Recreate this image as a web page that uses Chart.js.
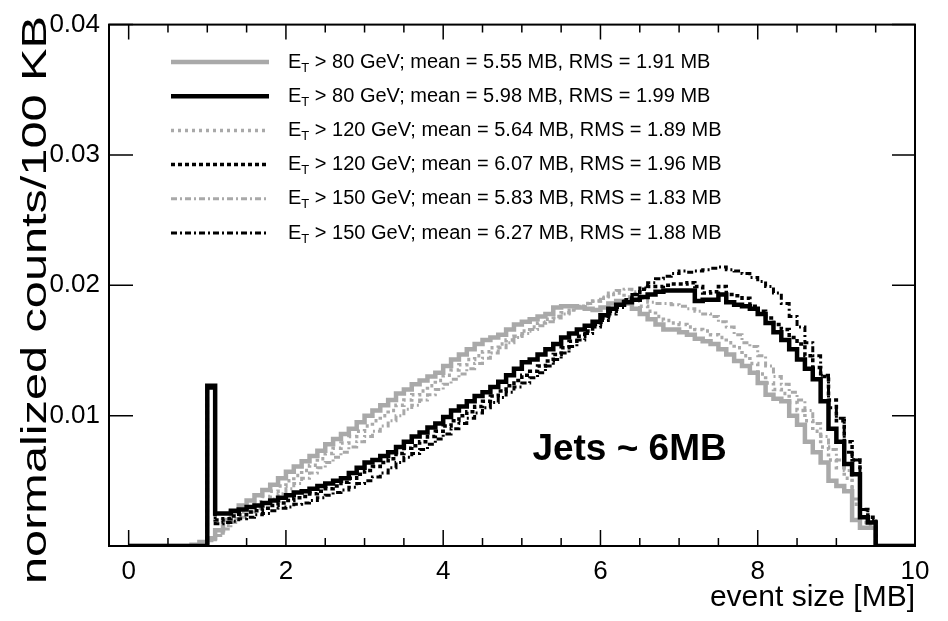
<!DOCTYPE html>
<html>
<head>
<meta charset="utf-8">
<script src="https://cdn.jsdelivr.net/npm/chart.js@4.4.1/dist/chart.umd.min.js"></script>
<style>
  html, body { margin: 0; padding: 0; background: #fff; }
</style>
</head>
<body>
<canvas id="myChart" width="948" height="621"></canvas>
<script>
// histogram bins: 100 KB wide, first bin starts at 0.8 MB
const firstBin = 0.8;
const binWidth = 0.1;

// E_T > 80 GeV, grey solid
const gray80 = [
  0.0001, 0.0003, 0.0006, 0.0012, 0.0020, 0.0026, 0.0031, 0.0035, 0.0039, 0.0043,
  0.0047, 0.0052, 0.0057, 0.0061, 0.0065, 0.0069, 0.0073, 0.0078, 0.0082, 0.0086,
  0.0090, 0.0095, 0.0100, 0.0104, 0.0108, 0.0112, 0.0117, 0.0120, 0.0124, 0.0127,
  0.0130, 0.0133, 0.0138, 0.0143, 0.0147, 0.0151, 0.0155, 0.0158, 0.0160, 0.0162,
  0.0166, 0.0170, 0.0172, 0.0174, 0.0176, 0.0178, 0.0183, 0.0184, 0.0184, 0.0183,
  0.0182, 0.0181, 0.0183, 0.0186, 0.0188, 0.0186, 0.0182, 0.0178, 0.0174, 0.0170,
  0.0166, 0.0166, 0.0164, 0.0162, 0.0159, 0.0157, 0.0155, 0.0151, 0.0147, 0.0142,
  0.0138, 0.0133, 0.0125, 0.0116, 0.0113, 0.0111, 0.0100, 0.0093, 0.0080, 0.0072,
  0.0064, 0.0050, 0.0046, 0.0042, 0.0020, 0.0014, 0.0014
];
// E_T > 80 GeV, black solid
const black80 = [
  0, 0, 0.0123, 0.0025, 0.0025, 0.0027, 0.0028, 0.0030, 0.0031, 0.0033,
  0.0035, 0.0037, 0.0039, 0.0041, 0.0042, 0.0044, 0.0046, 0.0048, 0.0050, 0.0052,
  0.0056, 0.0060, 0.0064, 0.0066, 0.0069, 0.0072, 0.0076, 0.0080, 0.0084, 0.0087,
  0.0091, 0.0094, 0.0099, 0.0104, 0.0107, 0.0111, 0.0115, 0.0118, 0.0122, 0.0126,
  0.0131, 0.0136, 0.0141, 0.0143, 0.0147, 0.0151, 0.0155, 0.0160, 0.0163, 0.0166,
  0.0169, 0.0172, 0.0177, 0.0182, 0.0185, 0.0187, 0.0189, 0.0191, 0.0193, 0.0195,
  0.0196, 0.0196, 0.0196, 0.0196, 0.0188, 0.0189, 0.0189, 0.0193, 0.0187, 0.0185,
  0.0184, 0.0182, 0.0178, 0.0171, 0.0164, 0.0158, 0.0151, 0.0143, 0.0136, 0.0128,
  0.0111, 0.0090, 0.0080, 0.0063, 0.0055, 0.0022, 0.0018
];
// E_T > 120 GeV, grey dotted
const gray120 = [
  0, 0.0002, 0.0005, 0.0010, 0.0016, 0.0021, 0.0026, 0.0030, 0.0034, 0.0038,
  0.0042, 0.0046, 0.0050, 0.0054, 0.0058, 0.0062, 0.0067, 0.0071, 0.0075, 0.0079,
  0.0084, 0.0088, 0.0092, 0.0096, 0.0100, 0.0104, 0.0108, 0.0112, 0.0116, 0.0119,
  0.0123, 0.0127, 0.0131, 0.0135, 0.0139, 0.0143, 0.0146, 0.0149, 0.0152, 0.0155,
  0.0158, 0.0161, 0.0165, 0.0168, 0.0171, 0.0174, 0.0176, 0.0179, 0.0181, 0.0184,
  0.0186, 0.0188, 0.0190, 0.0193, 0.0194, 0.0191, 0.0188, 0.0184, 0.0180, 0.0176,
  0.0173, 0.0171, 0.0170, 0.0168, 0.0166, 0.0165, 0.0162, 0.0160, 0.0156, 0.0152,
  0.0146, 0.0140, 0.0132, 0.0125, 0.0120, 0.0117, 0.0110, 0.0104, 0.0096, 0.0088,
  0.0076, 0.0066, 0.0060, 0.0052, 0.0032, 0.0018, 0.0016
];
// E_T > 120 GeV, black dotted
const black120 = [
  0, 0, 0.0122, 0.0020, 0.0021, 0.0023, 0.0024, 0.0026, 0.0027, 0.0029,
  0.0031, 0.0033, 0.0035, 0.0037, 0.0038, 0.0040, 0.0042, 0.0044, 0.0046, 0.0049,
  0.0052, 0.0055, 0.0058, 0.0061, 0.0064, 0.0067, 0.0071, 0.0075, 0.0077, 0.0080,
  0.0084, 0.0088, 0.0092, 0.0096, 0.0100, 0.0103, 0.0107, 0.0111, 0.0115, 0.0119,
  0.0123, 0.0127, 0.0131, 0.0134, 0.0138, 0.0142, 0.0147, 0.0152, 0.0157, 0.0161,
  0.0165, 0.0170, 0.0175, 0.0180, 0.0185, 0.0189, 0.0193, 0.0197, 0.0199, 0.0199,
  0.0200, 0.0201, 0.0201, 0.0202, 0.0199, 0.0194, 0.0195, 0.0199, 0.0193, 0.0192,
  0.0190, 0.0184, 0.0180, 0.0175, 0.0170, 0.0166, 0.0160, 0.0155, 0.0146, 0.0137,
  0.0130, 0.0112, 0.0096, 0.0080, 0.0066, 0.0028, 0.0022
];
// E_T > 150 GeV, grey dash-dot
const gray150 = [
  0, 0.0001, 0.0004, 0.0008, 0.0013, 0.0018, 0.0022, 0.0026, 0.0029, 0.0033,
  0.0036, 0.0040, 0.0044, 0.0048, 0.0052, 0.0056, 0.0060, 0.0064, 0.0068, 0.0072,
  0.0076, 0.0080, 0.0084, 0.0088, 0.0092, 0.0096, 0.0100, 0.0105, 0.0108, 0.0112,
  0.0116, 0.0120, 0.0124, 0.0128, 0.0132, 0.0136, 0.0140, 0.0144, 0.0148, 0.0152,
  0.0156, 0.0160, 0.0163, 0.0166, 0.0169, 0.0172, 0.0175, 0.0178, 0.0181, 0.0184,
  0.0186, 0.0188, 0.0191, 0.0194, 0.0196, 0.0197, 0.0195, 0.0190, 0.0187, 0.0186,
  0.0186, 0.0185, 0.0184, 0.0182, 0.0180, 0.0178, 0.0176, 0.0172, 0.0168, 0.0162,
  0.0156, 0.0153, 0.0146, 0.0138, 0.0130, 0.0124, 0.0118, 0.0112, 0.0104, 0.0094,
  0.0084, 0.0074, 0.0066, 0.0058, 0.0036, 0.0022, 0.0018
];
// E_T > 150 GeV, black dash-dot
const black150 = [
  0, 0, 0.0121, 0.0017, 0.0018, 0.0019, 0.0021, 0.0022, 0.0024, 0.0025,
  0.0027, 0.0029, 0.0030, 0.0032, 0.0033, 0.0035, 0.0037, 0.0039, 0.0041, 0.0043,
  0.0045, 0.0048, 0.0050, 0.0053, 0.0056, 0.0060, 0.0064, 0.0068, 0.0071, 0.0074,
  0.0078, 0.0082, 0.0086, 0.0090, 0.0094, 0.0098, 0.0102, 0.0106, 0.0110, 0.0114,
  0.0118, 0.0122, 0.0125, 0.0129, 0.0133, 0.0138, 0.0143, 0.0148, 0.0153, 0.0158,
  0.0163, 0.0168, 0.0173, 0.0178, 0.0183, 0.0188, 0.0193, 0.0198, 0.0202, 0.0205,
  0.0207, 0.0209, 0.0211, 0.0210, 0.0211, 0.0212, 0.0213, 0.0214, 0.0212, 0.0211,
  0.0209, 0.0206, 0.0203, 0.0199, 0.0194, 0.0186, 0.0176, 0.0168, 0.0156, 0.0146,
  0.0131, 0.0106, 0.0098, 0.0072, 0.0066, 0.0028, 0.0020
];

// legend text pieces
const etCuts = [80, 80, 120, 120, 150, 150];
const means = ['5.55', '5.98', '5.64', '6.07', '5.83', '6.27'];
const rmsValues = ['1.91', '1.99', '1.89', '1.96', '1.83', '1.88'];

const xTicks = [0, 2, 4, 6, 8, 10];
const yTicks = [0.01, 0.02, 0.03, 0.04];

const jetsText = 'Jets ~ 6MB';
const jetsPos = [6.37, 0.0074];

const GREY = '#a9a9a9';
const FONT = '"Liberation Sans", Arial, Helvetica, sans-serif';
Chart.defaults.font.family = FONT;
Chart.defaults.color = '#000';

// turn bin contents into step points (left edge of each bin)
function toSteps(vals) {
    const pts = [{x: 0, y: 0}];
    for (let i = 0; i < vals.length; i++) {
        pts.push({x: Math.round((firstBin + i * binWidth) * 10) / 10, y: vals[i]});
    }
    const end = Math.round((firstBin + vals.length * binWidth) * 10) / 10;
    pts.push({x: end, y: 0});
    pts.push({x: 10, y: 0});
    return pts;
}

function histo(label, vals, color, width, dash, order) {
    return {
        label: label,
        data: toSteps(vals),
        borderColor: color,
        borderWidth: width,
        borderDash: dash,
        stepped: true,
        fill: false,
        pointRadius: 0,
        order: order
    };
}

const datasets = [
    histo('ET > 80 GeV', gray80, GREY, 4.5, [], 3),
    histo('ET > 80 GeV', black80, '#000', 4.5, [], 0),
    histo('ET > 120 GeV', gray120, GREY, 3.5, [3, 4], 4),
    histo('ET > 120 GeV', black120, '#000', 3.5, [4, 3], 1),
    histo('ET > 150 GeV', gray150, GREY, 3, [6, 3, 2, 3], 5),
    histo('ET > 150 GeV', black150, '#000', 3, [6, 3, 2, 3], 2)
];

// ROOT style frame with inward ticks
const frameTicks = {
    id: 'frameTicks',
    afterDatasetsDraw(chart) {
        const {ctx, chartArea: a, scales: {x, y}} = chart;
        ctx.save();
        ctx.strokeStyle = '#000';
        ctx.lineWidth = 1.5;
        ctx.beginPath();
        for (let v = 0; v <= 10; v += 0.5) {
            const px = x.getPixelForValue(v);
            const major = v % 2 === 0;
            ctx.moveTo(px, a.bottom);
            ctx.lineTo(px, a.bottom - (major ? 16 : 8));
            ctx.moveTo(px, a.top);
            ctx.lineTo(px, a.top + (major ? 15 : 8));
        }
        yTicks.forEach(v => {
            const py = y.getPixelForValue(v);
            ctx.moveTo(a.left, py);
            ctx.lineTo(a.left + 24, py);
            ctx.moveTo(a.right, py);
            ctx.lineTo(a.right - 23, py);
        });
        ctx.stroke();
        ctx.lineWidth = 2;
        ctx.strokeRect(a.left, a.top, a.right - a.left, a.bottom - a.top);
        ctx.restore();
    }
};

// legend with subscript T
const legendBox = {
    id: 'legendBox',
    afterDraw(chart) {
        const ctx = chart.ctx;
        chart.data.datasets.forEach((ds, i) => {
            const yy = 62 + i * 34.2;
            ctx.save();
            ctx.strokeStyle = ds.borderColor;
            ctx.lineWidth = ds.borderWidth;
            ctx.setLineDash(ds.borderDash);
            ctx.beginPath();
            ctx.moveTo(171, yy);
            ctx.lineTo(269, yy);
            ctx.stroke();
            ctx.restore();

            ctx.save();
            ctx.fillStyle = '#000';
            ctx.textBaseline = 'middle';
            let tx = 288;
            ctx.font = '20px ' + FONT;
            ctx.fillText('E', tx, yy);
            tx += ctx.measureText('E').width;
            ctx.font = '13px ' + FONT;
            ctx.fillText('T', tx, yy + 6);
            tx += ctx.measureText('T').width;
            ctx.font = '20px ' + FONT;
            ctx.fillText(' > ' + etCuts[i] + ' GeV; mean = ' + means[i] + ' MB, RMS = ' + rmsValues[i] + ' MB', tx, yy);
            ctx.restore();
        });
    }
};

// annotation and stretched y title
const extraText = {
    id: 'extraText',
    afterDraw(chart) {
        const {ctx, scales: {x, y}} = chart;
        ctx.save();
        ctx.fillStyle = '#000';
        ctx.font = 'bold 37px ' + FONT;
        ctx.textAlign = 'center';
        ctx.textBaseline = 'middle';
        ctx.fillText(jetsText, x.getPixelForValue(jetsPos[0]), y.getPixelForValue(jetsPos[1]));
        ctx.restore();

        ctx.save();
        ctx.fillStyle = '#000';
        ctx.font = '35px ' + FONT;
        ctx.textAlign = 'center';
        ctx.textBaseline = 'alphabetic';
        ctx.translate(46, 300);
        ctx.rotate(-Math.PI / 2);
        ctx.scale(1.39, 1);
        ctx.fillText('normalized counts/100 KB', 0, 0);
        ctx.restore();
    }
};

const ctx = document.getElementById('myChart');
const chart = new Chart(ctx, {
    type: 'line',
    data: { datasets: datasets },
    options: {
        responsive: false,
        animation: false,
        layout: { padding: { top: 18, right: 33, left: 0, bottom: 5 } },
        plugins: {
            legend: { display: false },
            tooltip: { enabled: false }
        },
        scales: {
            x: {
                type: 'linear',
                min: -0.25,
                max: 10,
                border: { display: false },
                grid: { display: false, drawTicks: false },
                afterBuildTicks: s => { s.ticks = xTicks.map(v => ({value: v})); },
                afterFit: s => { s.height = 70; },
                ticks: {
                    color: '#000',
                    font: { size: 26 },
                    padding: 10,
                    maxRotation: 0,
                    callback: v => String(v)
                },
                title: {
                    display: true,
                    text: 'event size [MB]',
                    align: 'end',
                    color: '#000',
                    font: { size: 30 },
                    padding: 0
                }
            },
            y: {
                type: 'linear',
                min: 0,
                max: 0.04,
                border: { display: false },
                grid: { display: false, drawTicks: false },
                afterBuildTicks: s => { s.ticks = yTicks.map(v => ({value: v})); },
                afterFit: s => { s.width = 109; },
                ticks: {
                    color: '#000',
                    font: { size: 26 },
                    padding: 9,
                    callback: v => v.toFixed(2)
                }
            }
        }
    },
    plugins: [frameTicks, legendBox, extraText]
});
</script>
</body>
</html>
